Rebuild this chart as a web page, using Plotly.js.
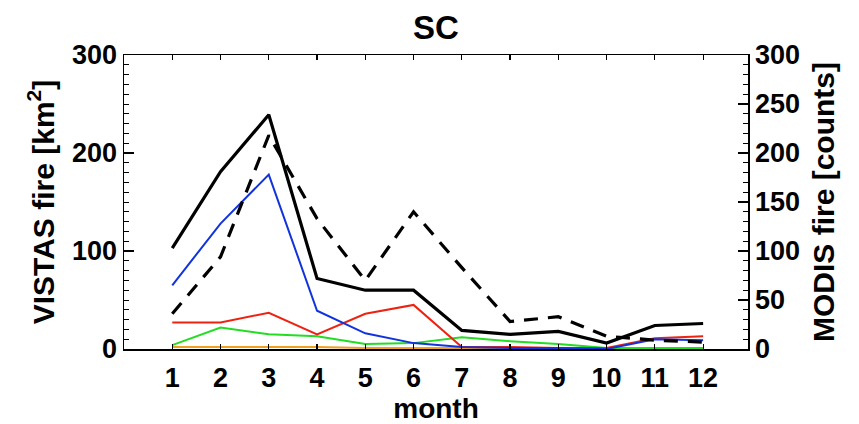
<!DOCTYPE html>
<html>
<head>
<meta charset="utf-8">
<script src="https://cdn.plot.ly/plotly-3.0.1.min.js"></script>
<style>html,body{margin:0;padding:0;background:#fff;}#chart{width:859px;height:424px;}</style>
</head>
<body>
<div id="chart"></div>
<script>
// Data
const months = [1, 2, 3, 4, 5, 6, 7, 8, 9, 10, 11, 12];
const monthLabels = ["1", "2", "3", "4", "5", "6", "7", "8", "9", "10", "11", "12"];
const vistasTotal = [103, 181, 239, 72, 60, 60, 19, 15, 18, 6, 24, 26];
const modisCounts = [36, 94, 218, 133, 70, 140, 83, 28, 33, 13, 9, 7];
const vistasBlue = [65, 128, 178, 39, 16, 6, 2, 1, 1, 0, 10, 9];
const vistasRed = [27, 27, 37, 15, 36, 45, 2, 2, 1, 1, 11, 13];
const vistasGreen = [4, 22, 15, 13, 5, 6, 12, 8, 5, 1, 1, 1];
const vistasOrange = [2, 2, 2, 2, 1, 1, 1, 1, 1, 0, 0, 0];

const FONT = "Liberation Sans, Arial, sans-serif";
const bold = (size) => ({family: FONT, size: size, color: "#000", weight: "bold"});

const traces = [
  {x: months, y: vistasOrange, mode: "lines", line: {color: "#f0a020", width: 2}, yaxis: "y"},
  {x: months, y: vistasGreen, mode: "lines", line: {color: "#22dd22", width: 2}, yaxis: "y"},
  {x: months, y: vistasRed, mode: "lines", line: {color: "#ee2211", width: 2}, yaxis: "y"},
  {x: months, y: vistasBlue, mode: "lines", line: {color: "#1133dd", width: 2}, yaxis: "y"},
  {x: months, y: vistasTotal, mode: "lines", line: {color: "#000", width: 3.2}, yaxis: "y"},
  {x: months, y: modisCounts, mode: "lines", line: {color: "#000", width: 3.2, dash: "14px,10px"}, yaxis: "y2"}
];

const layout = {
  width: 859, height: 424,
  margin: {l: 124, r: 111, t: 55, b: 75},
  paper_bgcolor: "#fff", plot_bgcolor: "#fff",
  showlegend: false,
  font: bold(27),
  title: {text: "SC", font: bold(33), x: 0.5, xref: "paper", y: 0.935, yref: "container", yanchor: "middle"},
  xaxis: {
    range: [0, 12.93], tickvals: months, ticktext: monthLabels,
    ticks: "inside", ticklen: 5, tickwidth: 1.2, tickcolor: "#000",
    showline: true, linecolor: "#000", linewidth: 1.5, mirror: "ticks",
    showgrid: false, zeroline: false,
    tickfont: bold(27), ticklabelstandoff: 4,
    title: {text: "month", font: bold(28), standoff: 2}
  },
  yaxis: {
    range: [0, 300], tickvals: [0, 100, 200, 300],
    ticks: "inside", ticklen: 10, tickwidth: 1.2, tickcolor: "#000",
    minor: {dtick: 10, ticks: "inside", ticklen: 5, tickwidth: 1, tickcolor: "#000", showgrid: false},
    showline: true, linecolor: "#000", linewidth: 1.5,
    showgrid: false, zeroline: false,
    tickfont: bold(27),
    title: {text: "VISTAS fire [km<sup>2</sup>]", font: bold(30)}
  },
  yaxis2: {
    overlaying: "y", side: "right",
    range: [0, 300], tickvals: [0, 50, 100, 150, 200, 250, 300],
    ticks: "inside", ticklen: 10, tickwidth: 1.2, tickcolor: "#000",
    minor: {dtick: 10, ticks: "inside", ticklen: 5, tickwidth: 1, tickcolor: "#000", showgrid: false},
    showline: true, linecolor: "#000", linewidth: 1.5,
    showgrid: false, zeroline: false,
    tickfont: bold(27),
    title: {text: "MODIS fire [counts]", font: bold(30)}
  }
};

Plotly.newPlot("chart", traces, layout, {staticPlot: true, displayModeBar: false});
</script>
</body>
</html>
